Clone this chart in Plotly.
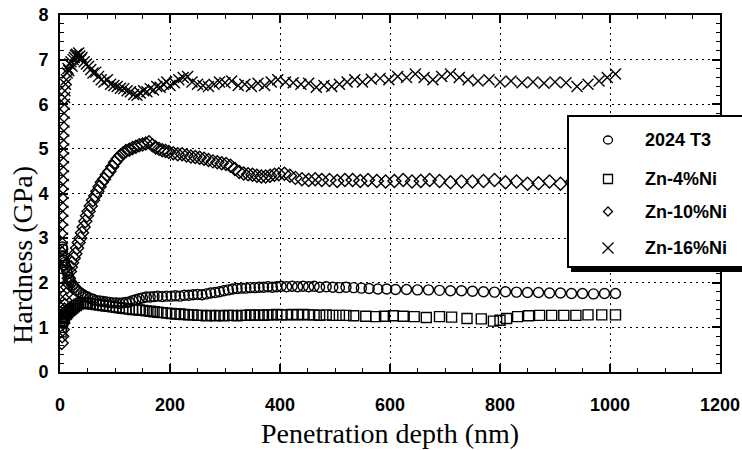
import plotly.graph_objects as go

# ---------------- data ----------------
series_names = ["2024 T3", "Zn-4%Ni", "Zn-10%Ni", "Zn-16%Ni"]

depth_t3 = [2, 3, 4, 5, 6, 7, 8, 9, 10, 12, 14, 16, 18, 20, 23, 26, 30, 34, 38, 42,
            46, 50, 55, 60, 66, 72, 78, 84, 90, 96, 102, 108, 114, 120, 126, 132, 138, 144, 150, 157,
            164, 171, 178, 186, 194, 202, 210, 218, 226, 234, 242, 250, 258, 266, 274, 282, 290, 298, 306, 314,
            322, 330, 338, 346, 354, 362, 370, 378, 386, 394, 402, 412, 422, 432, 442, 452, 462, 472, 484, 496,
            508, 520, 534, 548, 562, 578, 594, 610, 630, 650, 670, 690, 710, 730, 750, 770, 790, 810, 830, 850,
            870, 890, 910, 930, 950, 970, 990, 1010]
hard_t3 = [2.1, 2.6, 2.8, 2.75, 2.6, 2.5, 2.45, 2.4, 2.35, 2.28, 2.2, 2.12, 2.05, 2.0, 1.95, 1.9, 1.84, 1.8, 1.76, 1.73,
           1.7, 1.68, 1.65, 1.63, 1.6, 1.59, 1.58, 1.57, 1.56, 1.55, 1.55, 1.54, 1.55, 1.56, 1.57, 1.6, 1.62, 1.64, 1.66, 1.68,
           1.68, 1.69, 1.7, 1.69, 1.7, 1.7, 1.71, 1.7, 1.72, 1.72, 1.73, 1.74, 1.73, 1.75, 1.77, 1.78, 1.8, 1.82, 1.84, 1.86,
           1.87, 1.88, 1.88, 1.89, 1.89, 1.9, 1.9, 1.91, 1.9, 1.91, 1.92, 1.91, 1.92, 1.91, 1.92, 1.91, 1.92, 1.9, 1.91, 1.9,
           1.89, 1.9, 1.89, 1.88, 1.87, 1.86, 1.86, 1.85, 1.85, 1.84, 1.84, 1.83, 1.82, 1.82, 1.81, 1.8, 1.79, 1.8, 1.79, 1.78,
           1.78, 1.77, 1.77, 1.76, 1.76, 1.75, 1.76, 1.76]

depth_4 = [2, 3, 4, 5, 6, 7, 8, 10, 12, 14, 16, 18, 20, 23, 26, 30, 34, 38, 42, 46,
           50, 55, 60, 66, 72, 78, 84, 90, 96, 102, 108, 114, 120, 126, 132, 138, 144, 150, 157, 164,
           171, 178, 186, 194, 202, 210, 218, 226, 234, 242, 250, 258, 266, 274, 282, 290, 298, 306, 314, 322,
           330, 338, 346, 354, 362, 370, 378, 386, 394, 402, 412, 422, 432, 442, 452, 462, 472, 484, 496, 508,
           520, 534, 556, 574, 590, 606, 624, 644, 666, 690, 712, 740, 766, 788, 800, 812, 832, 852, 872, 894,
           916, 938, 960, 985, 1010]
hard_4 = [0.9, 1.0, 1.1, 1.15, 1.2, 1.22, 1.25, 1.28, 1.3, 1.33, 1.36, 1.38, 1.4, 1.43, 1.46, 1.49, 1.52, 1.54, 1.55, 1.55,
          1.54, 1.53, 1.52, 1.51, 1.5, 1.49, 1.48, 1.47, 1.46, 1.45, 1.44, 1.43, 1.42, 1.41, 1.4, 1.4, 1.39, 1.38, 1.37, 1.36,
          1.35, 1.34, 1.33, 1.32, 1.31, 1.3, 1.3, 1.29, 1.28, 1.28, 1.27, 1.27, 1.26, 1.27, 1.26, 1.27, 1.26, 1.27, 1.27, 1.26,
          1.27, 1.27, 1.28, 1.27, 1.28, 1.27, 1.28, 1.28, 1.29, 1.28, 1.28, 1.29, 1.28, 1.29, 1.28, 1.28, 1.27, 1.28, 1.27, 1.27,
          1.27, 1.26, 1.25, 1.24, 1.25, 1.26, 1.25, 1.24, 1.22, 1.24, 1.23, 1.2, 1.19, 1.14, 1.16, 1.2, 1.24, 1.26, 1.27, 1.27,
          1.27, 1.27, 1.28, 1.28, 1.28]

depth_10 = [3, 4, 5, 6, 7, 8, 9, 10,
            11.5, 13, 14.5, 16, 18, 20, 22,
            25, 28, 31, 34, 37, 40,
            43, 46, 49, 52,
            56, 60, 64, 68, 72, 76, 80,
            85, 90, 95, 100, 105, 110, 115, 120,
            126, 132, 138, 144, 150, 156, 162, 168, 174, 180, 186, 192, 198,
            206, 214, 222, 230, 238, 246, 254, 262, 270, 278, 286, 294, 302, 310, 318, 326, 334, 342, 350, 358, 366,
            374, 382, 390, 398,
            408, 418, 428, 440, 452, 464, 476, 490, 504, 518, 532, 546, 560,
            576, 592, 608, 624, 640, 656, 672,
            690, 710, 730, 750, 770, 790, 810, 830, 850, 870, 890, 910, 930, 950, 970, 990, 1010]
hard_10 = [0.65, 0.8, 0.95, 1.1, 1.25, 1.4, 1.5, 1.6,
           1.75, 1.9, 2.0, 2.1, 2.25, 2.35, 2.45,
           2.55, 2.65, 2.78, 2.9, 3.0, 3.12,
           3.25, 3.38, 3.5, 3.6,
           3.72, 3.85, 3.95, 4.05, 4.15, 4.25, 4.32,
           4.42, 4.5, 4.6, 4.7, 4.78, 4.85, 4.9, 4.95,
           4.98, 5.02, 5.05, 5.08, 5.1, 5.12, 5.15, 5.08, 5.03, 5.0, 4.97, 4.95, 4.93,
           4.9, 4.88, 4.88, 4.85, 4.83, 4.82, 4.8, 4.78, 4.75, 4.72, 4.7, 4.68, 4.66, 4.62, 4.55, 4.48, 4.45, 4.43, 4.42, 4.4, 4.38,
           4.38, 4.4, 4.42, 4.43,
           4.44, 4.4, 4.35, 4.32, 4.3, 4.32, 4.3, 4.3, 4.28, 4.3, 4.3, 4.28, 4.3,
           4.28, 4.27, 4.28, 4.3, 4.27, 4.28, 4.3,
           4.28, 4.25, 4.27, 4.27, 4.28, 4.3, 4.25, 4.27, 4.22, 4.23, 4.27, 4.22, 4.25, 4.27, 4.25, 4.28, 4.3]

depth_16 = [3.5, 3.8, 4.1, 4.4, 4.7, 5.0, 5.2, 5.4, 5.6, 5.8, 6.0, 6.2, 6.4, 6.6, 6.8, 7.0, 7.3, 7.6, 8.0, 8.5,
            9, 10, 11.5, 13, 14.5, 16, 18, 20, 22, 24, 26, 28, 30, 32, 34, 36, 38, 40,
            44, 48, 52, 56, 60, 65, 70, 75, 80, 86, 92, 98, 104, 110, 116, 122, 128, 134, 140, 146, 152, 158, 164, 170, 176, 182, 188, 194, 200,
            208, 216, 224, 232, 240, 250, 260, 270, 280, 290, 300, 312, 324, 336, 348, 360, 372, 384, 396,
            410, 424, 438, 452, 466, 480, 494, 508, 522, 536, 550,
            566, 582, 598, 614, 630, 646, 662, 678, 694, 710, 726, 742,
            760, 780, 800, 820, 840, 860, 880, 900, 920, 940, 960, 980, 995, 1010]
hard_16 = [2.45, 2.62, 2.8, 3.0, 3.2, 3.4, 3.6, 3.8, 4.0, 4.2, 4.4, 4.6, 4.8, 5.0, 5.2, 5.4, 5.6, 5.8, 6.0, 6.15,
           6.3, 6.45, 6.55, 6.7, 6.8, 6.75, 6.9, 6.95, 6.85, 7.0, 7.05, 7.1, 7.12, 7.05, 7.15, 7.08, 7.0, 7.05,
           6.95, 6.9, 6.85, 6.78, 6.7, 6.72, 6.62, 6.55, 6.5, 6.55, 6.45, 6.42, 6.4, 6.36, 6.35, 6.3, 6.28, 6.22, 6.2, 6.25, 6.3, 6.28, 6.35, 6.32, 6.4, 6.38, 6.45, 6.5, 6.42,
           6.48, 6.55, 6.6, 6.62, 6.5, 6.45, 6.42, 6.4, 6.45, 6.5, 6.48, 6.52, 6.42, 6.45, 6.4, 6.47, 6.42, 6.5, 6.55,
           6.5, 6.48, 6.45, 6.47, 6.38, 6.42, 6.4, 6.45, 6.5, 6.55, 6.5,
           6.56, 6.58, 6.55, 6.62, 6.6, 6.68, 6.6, 6.55, 6.62, 6.68, 6.6, 6.55,
           6.52, 6.55, 6.5, 6.52, 6.48, 6.5, 6.47, 6.5, 6.48, 6.4, 6.45, 6.52, 6.6, 6.68]

x_ticks = [0, 200, 400, 600, 800, 1000, 1200]
y_ticks = [0, 1, 2, 3, 4, 5, 6, 7, 8]

# ---------------- layout geometry (page body margin removed below) ----------------
W, H = 742, 450
L, T = 60, 15
R = W - 720
B = H - 372
PW, PH = W - L - R, H - T - B


def px(sx):
    """picture x (pixels) -> paper x"""
    return (sx - L) / PW


def py(sy):
    """picture y (pixels) -> paper y"""
    return (H - B - sy) / PH


SANS = "Liberation Sans, Arial, sans-serif"
SERIF = "Liberation Serif, Times New Roman, serif"

fig = go.Figure()

marker_styles = [
    dict(symbol="circle-open", size=10, color="black", line=dict(width=1.4, color="black")),
    dict(symbol="square-open", size=10, color="black", line=dict(width=1.4, color="black")),
    dict(symbol="diamond-open", size=10, color="black", line=dict(width=1.4, color="black")),
    dict(symbol="x-thin-open", size=11, color="black", line=dict(width=1.4, color="black")),
]
data = [(depth_t3, hard_t3), (depth_4, hard_4), (depth_10, hard_10), (depth_16, hard_16)]

for name, (xs, ys), mk in zip(series_names, data, marker_styles):
    fig.add_trace(go.Scatter(x=xs, y=ys, mode="markers", name=name, marker=mk,
                             showlegend=False, cliponaxis=True))

axis_common = dict(
    showline=True, linecolor="black", linewidth=2, mirror="allticks",
    ticks="inside", ticklen=8, tickwidth=1.5, tickcolor="black",
    showgrid=True, gridcolor="black", gridwidth=1.2, griddash="2px,4px",
    zeroline=False, ticklabeloverflow="allow",
    tickfont=dict(family=SANS, size=18, color="black", weight="bold"),
)

fig.update_xaxes(range=[0, 1200], tickvals=x_ticks, ticktext=[str(v) for v in x_ticks],
                 minor=dict(ticks="inside", dtick=50, tick0=0, ticklen=4, tickwidth=1, tickcolor="black", showgrid=False),
                 ticklabelstandoff=15, **axis_common)
fig.update_yaxes(range=[0, 8], tickvals=y_ticks, ticktext=[str(v) for v in y_ticks],
                 minor=dict(ticks="inside", dtick=0.2, tick0=0, ticklen=4, tickwidth=1, tickcolor="black", showgrid=False),
                 ticklabelstandoff=6, **axis_common)

shapes = []
# legend box (with heavy shadow)
shapes.append(dict(type="rect", xref="paper", yref="paper", x0=px(571), x1=px(760), y0=py(272), y1=py(119),
                   fillcolor="black", line=dict(width=0), layer="above"))
shapes.append(dict(type="rect", xref="paper", yref="paper", x0=px(568), x1=px(755), y0=py(267), y1=py(116),
                   fillcolor="white", line=dict(width=2, color="black"), layer="above"))
sym_x = 608
row_y = [140, 179, 211.5, 248]
sym_line = dict(width=1.3, color="black")
shapes.append(dict(type="circle", xref="paper", yref="paper", x0=px(sym_x - 4.5), x1=px(sym_x + 4.5),
                   y0=py(row_y[0] + 4), y1=py(row_y[0] - 4), line=sym_line, layer="above"))
shapes.append(dict(type="rect", xref="paper", yref="paper", x0=px(sym_x - 4.5), x1=px(sym_x + 4.5),
                   y0=py(row_y[1] + 4.5), y1=py(row_y[1] - 4.5), line=sym_line, layer="above"))
d = (f"M {px(sym_x)},{py(row_y[2]-4.5)} L {px(sym_x+4.5)},{py(row_y[2])} "
     f"L {px(sym_x)},{py(row_y[2]+4.5)} L {px(sym_x-4.5)},{py(row_y[2])} Z")
shapes.append(dict(type="path", xref="paper", yref="paper", path=d, line=sym_line, layer="above"))
xp = (f"M {px(sym_x-5.5)},{py(row_y[3]-5.5)} L {px(sym_x+5.5)},{py(row_y[3]+5.5)} "
      f"M {px(sym_x-5.5)},{py(row_y[3]+5.5)} L {px(sym_x+5.5)},{py(row_y[3]-5.5)}")
shapes.append(dict(type="path", xref="paper", yref="paper", path=xp, line=sym_line, layer="above"))

annotations = []
for name, ry in zip(series_names, row_y):
    annotations.append(dict(xref="paper", yref="paper", x=px(643), y=py(ry), text=name, showarrow=False,
                            xanchor="left", yanchor="middle",
                            font=dict(family=SANS, size=18, color="black", weight="bold")))
annotations.append(dict(xref="paper", yref="paper", x=px(390), y=py(433), text="Penetration depth (nm)",
                        showarrow=False, xanchor="center", yanchor="middle",
                        font=dict(family=SERIF, size=28, color="black")))
annotations.append(dict(xref="paper", yref="paper", x=px(22), y=py(255), text="Hardness (GPa)",
                        showarrow=False, xanchor="center", yanchor="middle", textangle=-90,
                        font=dict(family=SERIF, size=28, color="black")))

fig.update_layout(
    width=W, height=H,
    margin=dict(l=L, r=R, t=T, b=B, autoexpand=False),
    paper_bgcolor="white", plot_bgcolor="white",
    showlegend=False,
    shapes=shapes, annotations=annotations,
)

fig.write_html("out.html", config={"displayModeBar": False},
               post_script="document.body.style.margin='0px';")
